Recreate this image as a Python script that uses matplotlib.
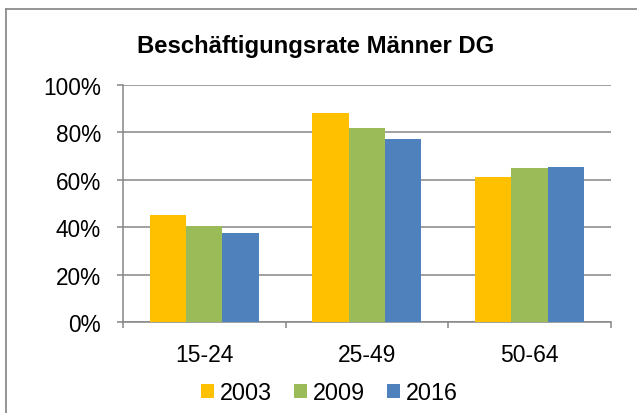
import matplotlib
matplotlib.use("Agg")
import matplotlib.pyplot as plt
import numpy as np
from matplotlib.lines import Line2D
from matplotlib.patches import Patch

plt.rcParams['font.family'] = ['Liberation Sans', 'DejaVu Sans']

categories = ["15-24", "25-49", "50-64"]
series_names = ["2003", "2009", "2016"]
v2003 = [45.2, 88.1, 61.4]
v2009 = [40.4, 82.0, 64.9]
v2016 = [37.8, 77.1, 65.6]
colors = ["#FFC000", "#9BBB59", "#4F81BD"]
title = "Beschäftigungsrate Männer DG"

W, H = 637, 414
fig = plt.figure(figsize=(W / 100, H / 100), dpi=100)
ax = fig.add_axes([123 / W, 1 - 323.3 / H, (610.7 - 123) / W, (323.3 - 86) / H])

x = np.arange(len(categories))
bw = 0.223
for i, (vals, c) in enumerate(zip([v2003, v2009, v2016], colors)):
    ax.bar(x + (i - 1) * bw, vals, width=bw, color=c, edgecolor='none', zorder=3)

ax.set_xlim(-0.5, 2.5)
ax.set_ylim(0, 100)
ax.set_yticks(np.arange(0, 101, 20))
ax.set_yticklabels([f"{v}%" for v in range(0, 101, 20)])
ax.yaxis.grid(True, color="#868686", linewidth=1.1, zorder=0)
ax.set_axisbelow(True)

ax.set_xticks(x)
ax.set_xticklabels(categories)
ax.set_xticks([-0.5, 0.5, 1.5, 2.5], minor=True)
ax.tick_params(axis='x', which='major', length=0, pad=15, labelsize=16.5)
ax.tick_params(axis='x', which='minor', length=4.5, width=1.1, color="#868686")
ax.tick_params(axis='y', length=4.5, width=1.1, color="#868686", pad=11.3, labelsize=16.3)

for s in ['top', 'right']:
    ax.spines[s].set_visible(False)
for s in ['left', 'bottom']:
    ax.spines[s].set_color("#868686")
    ax.spines[s].set_linewidth(1.1)

fig.text(315.5 / W, 1 - 53 / H, title, ha='center', va='baseline',
         fontsize=17.2, fontweight='bold')

handles = [Patch(facecolor=c, edgecolor='none') for c in colors]
fig.legend(handles, series_names, loc='center', bbox_to_anchor=(329.4 / W, 1 - 393.5 / H),
           ncol=3, frameon=False, fontsize=16.8, handlelength=0.55, handleheight=0.55,
           handletextpad=0.25, columnspacing=0.95)

# chart-area border (top and left edges visible)
fig.add_artist(Line2D([6 / W, 6 / W], [0, 1 - 10 / H], transform=fig.transFigure,
                      color="#8c8c8c", linewidth=1.3))
fig.add_artist(Line2D([6 / W, 1], [1 - 10 / H, 1 - 10 / H], transform=fig.transFigure,
                      color="#8c8c8c", linewidth=1.3))

fig.savefig("out.png", dpi=100)
